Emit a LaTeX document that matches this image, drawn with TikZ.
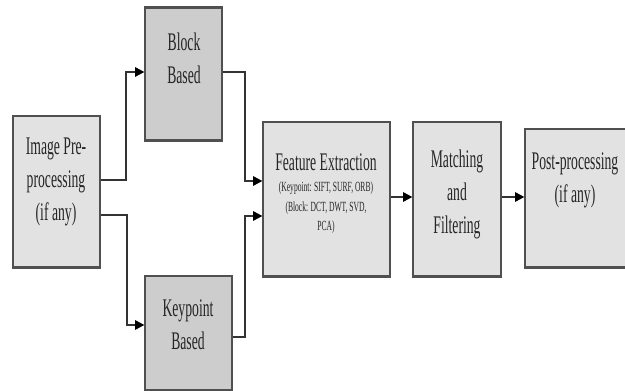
\documentclass[tikz,border=0pt]{standalone}
\usepackage{fontspec}
\setmainfont{Liberation Serif}[FakeStretch=0.54]
\usetikzlibrary{arrows.meta,fit,calc}
\definecolor{boxline}{HTML}{505050}
\definecolor{wirecol}{HTML}{333333}
\definecolor{inkcol}{HTML}{262626}
\definecolor{lightfill}{HTML}{E2E2E2}
\definecolor{darkfill}{HTML}{CDCDCD}
\tikzset{
  stagebox/.style={draw=boxline, line width=0.9pt, inner sep=0pt},
  wire/.style={draw=wirecol, line width=1.4pt,
    -{Triangle[length=7pt,width=7pt,color=black]}},
  bigtxt/.style={text=inkcol, align=center, inner sep=0pt,
    font=\fontsize{19}{24.75}\selectfont},
  smalltxt/.style={text=inkcol, align=center, inner sep=0pt,
    font=\fontsize{10.5}{14.6}\selectfont},
}
\begin{document}
\begin{tikzpicture}[x=0.75pt,y=-0.75pt]
\useasboundingbox (0,0) rectangle (625,391);

% stage boxes
\node[stagebox, fill=lightfill, fit={(13,116) (100,267)}] (img) {};
\node[stagebox, fill=darkfill, fit={(145,8) (222,140)}] (block) {};
\node[stagebox, fill=darkfill, fit={(145,276) (232,390)}] (kp) {};
\node[stagebox, fill=lightfill, fit={(263,122) (390,276)}] (feat) {};
\node[stagebox, fill=lightfill, fit={(413,122) (501,276)}] (match) {};
\node[stagebox, fill=lightfill, fit={(525,129) (632,267)}] (post) {};

% heavier lower edges
\foreach \b in {img,block,kp,feat,match,post}
  \draw[boxline, line width=1.6pt] (\b.south west) -- (\b.south east);
\draw[boxline, line width=1.6pt] (block.north west) -- (block.north east);

% labels
\node[bigtxt] (imgT) at (56,182) {Image Pre-\\processing\\(if any)};
\node[bigtxt] (blockT) at (184,58) {Block\\Based};
\node[bigtxt] (kpT) at (188,325) {Keypoint\\Based};
\node[bigtxt] (featT) at (326,162) {Feature Extraction};
\node[smalltxt] (featS) at (326,208) {(Keypoint: SIFT, SURF, ORB)\\(Block: DCT, DWT, SVD,\\PCA)};
\node[bigtxt] (matchT) at (457,194) {Matching\\and\\Filtering};
\node[bigtxt] (postT) at (575,180) {Post-processing\\(if any)};

% connectors
\draw[wire] (img.east |- 0,180) -- (126,180) |- (block.west |- 0,72);
\draw[wire] (img.east |- 0,215) -- (127,215) |- (kp.west |- 0,325);
\draw[wire] (block.east |- 0,72) -- (245,72) |- (feat.west |- 0,181);
\draw[wire] (kp.east |- 0,337) -- (245,337) |- (feat.west |- 0,216);
\draw[wire] (feat.east |- 0,197) -- (match.west |- 0,197);
\draw[wire] (match.east |- 0,197) -- (post.west |- 0,197);
\end{tikzpicture}
\end{document}
